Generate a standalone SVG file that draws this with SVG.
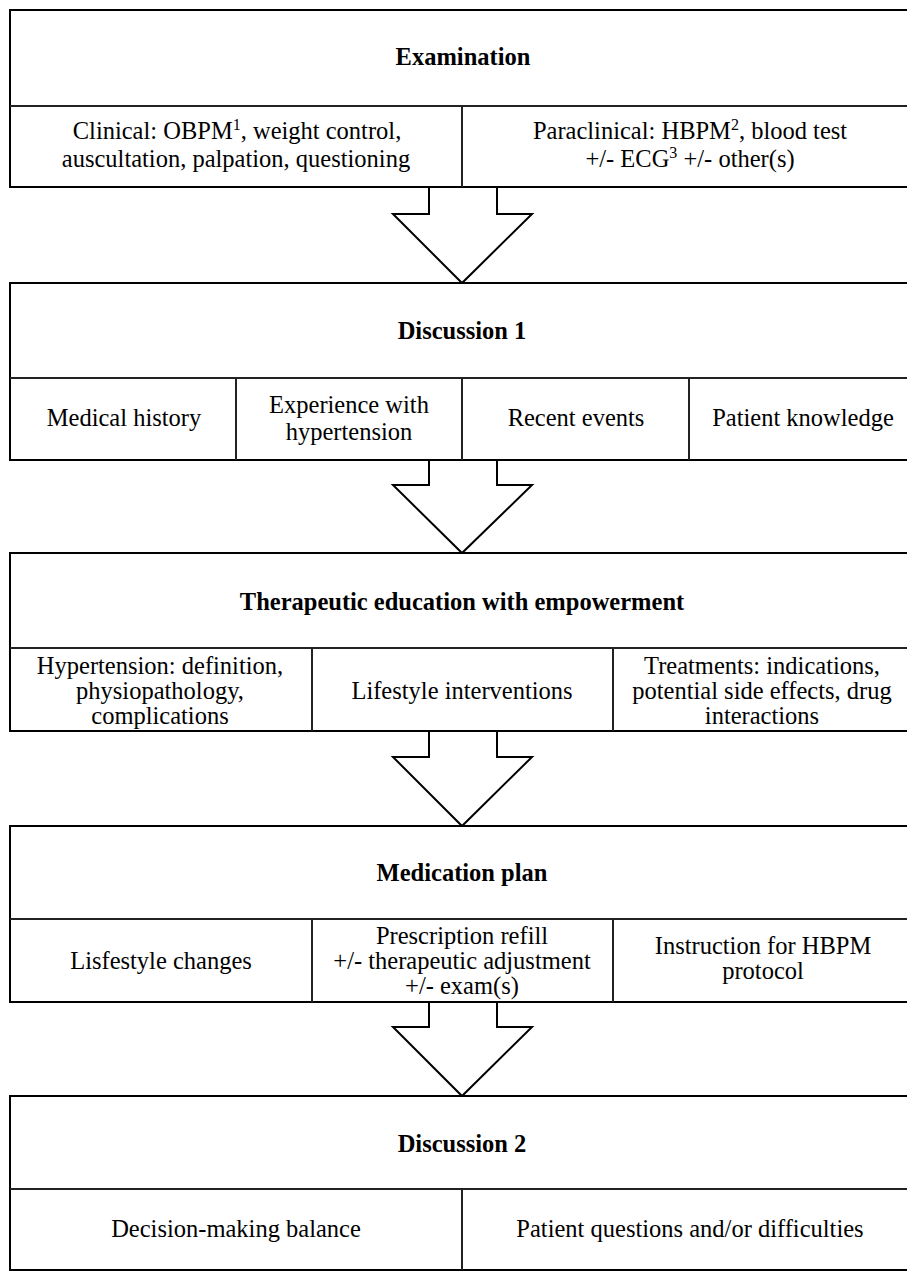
<svg xmlns="http://www.w3.org/2000/svg" width="907" height="1272" viewBox="0 0 907 1272">
<style>
.box{fill:#fff;stroke:#000;stroke-width:2}
.thin{fill:none;stroke:#222;stroke-width:2}
text{font-family:'Times New Roman','Liberation Serif','DejaVu Serif',serif;text-anchor:middle;fill:#000}
.h{font-weight:bold;font-size:24.5px}
.t{font-size:24.5px}
.arrow{fill:#fff;stroke:#000;stroke-width:2;stroke-linejoin:miter}
</style>
<rect width="907" height="1272" fill="#fff"/>
<g id="connectors">
<polygon class="arrow" points="429,187 497,187 497,214 532,214 462,283 393,214 429,214"/>
<polygon class="arrow" points="429,460 497,460 497,485 532,485 462,553 393,485 429,485"/>
<polygon class="arrow" points="429,731 497,731 497,757 532,757 462,826 393,757 429,757"/>
<polygon class="arrow" points="429,1002 497,1002 497,1027 532,1027 462,1096 393,1027 429,1027"/>
</g>
<g id="examination">
<rect class="box" x="10" y="10" width="910" height="177"/>
<line class="thin" x1="10" y1="106" x2="920" y2="106"/>
<line class="thin" x1="462" y1="106" x2="462" y2="187"/>
<text class="h" x="463" y="65">Examination</text>
<text class="t" x="237" y="139">Clinical: OBPM<tspan font-size="16" dy="-9">1</tspan><tspan dy="9">, weight control,</tspan></text>
<text class="t" x="236" y="167">auscultation, palpation, questioning</text>
<text class="t" x="690" y="139">Paraclinical: HBPM<tspan font-size="16" dy="-9">2</tspan><tspan dy="9">, blood test</tspan></text>
<text class="t" x="690" y="167">+/- ECG<tspan font-size="16" dy="-9">3</tspan><tspan dy="9"> +/- other(s)</tspan></text>
</g>
<g id="discussion1">
<rect class="box" x="10" y="283" width="910" height="177"/>
<line class="thin" x1="10" y1="378" x2="920" y2="378"/>
<line class="thin" x1="236" y1="378" x2="236" y2="460"/>
<line class="thin" x1="462" y1="378" x2="462" y2="460"/>
<line class="thin" x1="689" y1="378" x2="689" y2="460"/>
<text class="h" x="462" y="339">Discussion 1</text>
<text class="t" x="124" y="426">Medical history</text>
<text class="t" x="349" y="413">Experience with</text>
<text class="t" x="349" y="440">hypertension</text>
<text class="t" x="576" y="426">Recent events</text>
<text class="t" x="803" y="426">Patient knowledge</text>
</g>
<g id="education">
<rect class="box" x="10" y="553" width="910" height="178"/>
<line class="thin" x1="10" y1="648" x2="920" y2="648"/>
<line class="thin" x1="312" y1="648" x2="312" y2="731"/>
<line class="thin" x1="613" y1="648" x2="613" y2="731"/>
<text class="h" x="462" y="610">Therapeutic education with empowerment</text>
<text class="t" x="160" y="674">Hypertension: definition,</text>
<text class="t" x="160" y="699">physiopathology,</text>
<text class="t" x="160" y="724">complications</text>
<text class="t" x="462" y="699">Lifestyle interventions</text>
<text class="t" x="762" y="674">Treatments: indications,</text>
<text class="t" x="762" y="699">potential side effects, drug</text>
<text class="t" x="762" y="724">interactions</text>
</g>
<g id="medication">
<rect class="box" x="10" y="826" width="910" height="176"/>
<line class="thin" x1="10" y1="919" x2="920" y2="919"/>
<line class="thin" x1="312" y1="919" x2="312" y2="1002"/>
<line class="thin" x1="613" y1="919" x2="613" y2="1002"/>
<text class="h" x="462" y="881">Medication plan</text>
<text class="t" x="161" y="969">Lisfestyle changes</text>
<text class="t" x="462" y="944">Prescription refill</text>
<text class="t" x="462" y="969">+/- therapeutic adjustment</text>
<text class="t" x="462" y="994">+/- exam(s)</text>
<text class="t" x="763" y="954">Instruction for HBPM</text>
<text class="t" x="763" y="979">protocol</text>
</g>
<g id="discussion2">
<rect class="box" x="10" y="1096" width="910" height="174"/>
<line class="thin" x1="10" y1="1189" x2="920" y2="1189"/>
<line class="thin" x1="462" y1="1189" x2="462" y2="1270"/>
<text class="h" x="462" y="1152">Discussion 2</text>
<text class="t" x="236" y="1237">Decision-making balance</text>
<text class="t" x="690" y="1237">Patient questions and/or difficulties</text>
</g>
</svg>
